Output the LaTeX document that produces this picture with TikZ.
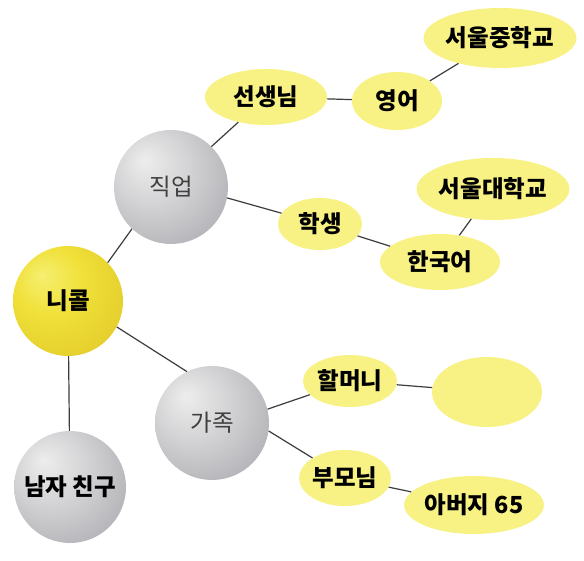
\documentclass[tikz,border=0pt]{standalone}
\usepackage{fontspec}
\newfontfamily\kr{Noto Sans CJK KR}
\usetikzlibrary{shapes.geometric}
\definecolor{bubblefill}{HTML}{F8F285}
\definecolor{ballA}{HTML}{F6EF70}
\definecolor{ballB}{HTML}{F0E038}
\definecolor{ballC}{HTML}{E2CA2A}
\definecolor{ballD}{HTML}{C6AA20}
\definecolor{greyA}{HTML}{EDEDED}
\definecolor{greyB}{HTML}{D4D4D6}
\definecolor{greyC}{HTML}{ADADB2}
\definecolor{greyD}{HTML}{86868C}
\definecolor{linkgrey}{HTML}{3C3C3C}
\pgfdeclareradialshading{yellowball}{\pgfpoint{-12bp}{12bp}}{%
  color(0bp)=(ballA); color(16bp)=(ballB); color(38bp)=(ballC); color(62bp)=(ballD)}
\pgfdeclareradialshading{greyball}{\pgfpoint{-12bp}{12bp}}{%
  color(0bp)=(greyA); color(16bp)=(greyB); color(38bp)=(greyC); color(62bp)=(greyD)}
\newcommand{\lblfont}{\kr\fontsize{23.5}{28}\selectfont}
\begin{document}
\begin{tikzpicture}[x=1pt,y=-1pt,
  ball/.style={circle,inner sep=0pt,minimum size=114pt},
  gold/.style={ball,shading=yellowball,font=\lblfont\bfseries},
  grey/.style={ball,shading=greyball,font=\lblfont,text=black!75},
  bubble/.style n args={2}{ellipse,fill=bubblefill,inner sep=0pt,
    minimum width=#1,minimum height=#2,font=\lblfont\bfseries},
  link/.style={draw=linkgrey,line width=1.2pt}]
  \fill[white] (0,0) rectangle (584,561);
  \useasboundingbox (0,0) rectangle (584,561);

  \node[gold,minimum size=110pt] (nicole) at (68,301) {니콜};
  \node[grey] (job) at (171,187) {직업};
  \node[grey] (family) at (212,423) {가족};
  \node[grey,minimum size=112pt,text=black,font=\lblfont\bfseries] (boyfriend) at (70,487) {남자 친구};

  \node[bubble={122pt}{56pt}] (teacher) at (266,97) {선생님};
  \node[bubble={90pt}{58pt}] (english) at (397,101) {영어};
  \node[bubble={145pt}{60pt}] (middleschool) at (500,38) {서울중학교};
  \node[bubble={84pt}{52pt}] (student) at (320,224) {학생};
  \node[bubble={120pt}{56pt}] (korean) at (440,262) {한국어};
  \node[bubble={130pt}{62pt}] (university) at (493,189) {서울대학교};
  \node[bubble={94pt}{52pt}] (grandma) at (350,381) {할머니};
  \node[bubble={110pt}{70pt}] (blank) at (487,392) {};
  \node[bubble={88pt}{56pt}] (parents) at (345,478) {부모님};
  \node[bubble={126pt}{58pt}] (father) at (474,505) {아버지 65};

  \draw[link] (nicole.44) -- (job.227);
  \draw[link] (nicole.-28) -- (family.116);
  \draw[link] (nicole) -- (boyfriend);
  \draw[link] (job.45) -- (teacher);
  \draw[link] (teacher) -- (english);
  \draw[link] (english) -- (middleschool);
  \draw[link] (job.-11) -- (student);
  \draw[link] (student) -- (korean);
  \draw[link] (korean) -- (university);
  \draw[link] (family.14) -- (grandma);
  \draw[link] (grandma) -- (blank);
  \draw[link] (family.-8) -- (parents);
  \draw[link] (parents) -- (father);
\end{tikzpicture}
\end{document}
